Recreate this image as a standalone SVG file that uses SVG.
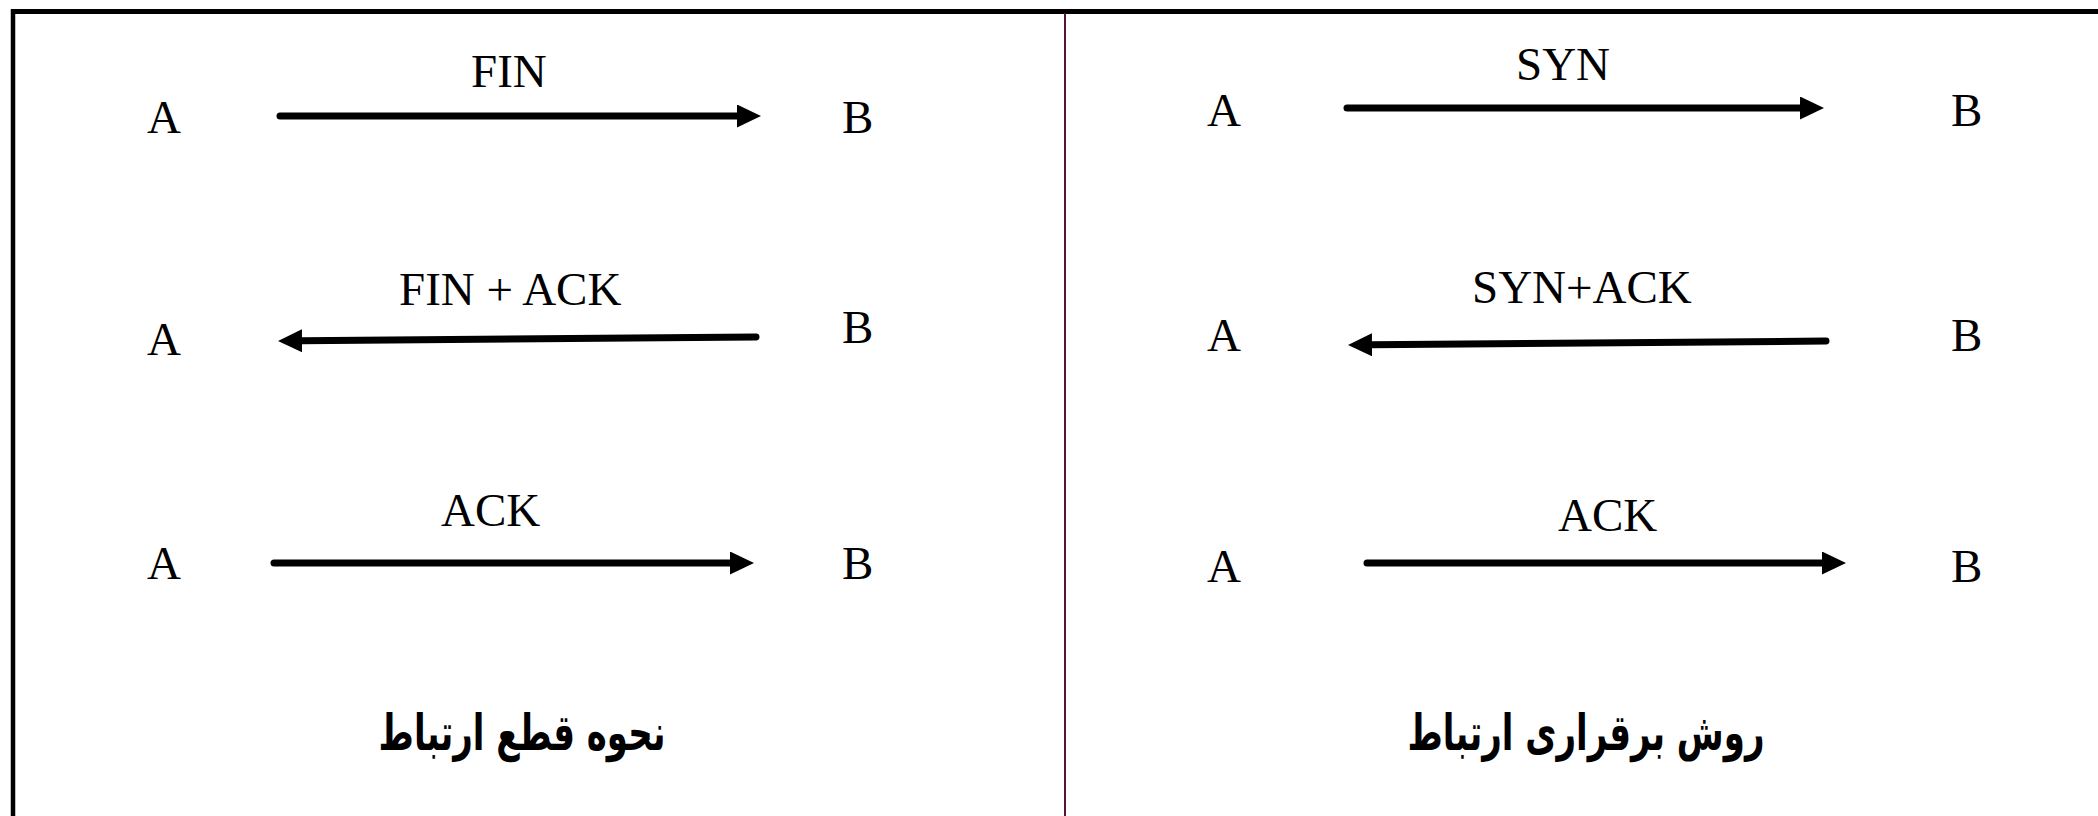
<svg xmlns="http://www.w3.org/2000/svg" width="2098" height="816" viewBox="0 0 2098 816">
<style>
.lbl{font-family:"Liberation Serif","Times New Roman",serif;font-size:47px;fill:#000}
.fa{font-family:"DejaVu Sans",sans-serif;font-weight:bold;font-size:50px;fill:#000}
.arr{stroke:#000;stroke-width:7;stroke-linecap:round;fill:none;marker-end:url(#head)}
</style>
<defs>
<marker id="head" markerUnits="userSpaceOnUse" markerWidth="26" markerHeight="24" refX="1" refY="11.5" orient="auto">
<path d="M0,0 L24,11.5 L0,23 Z" fill="#000"/>
</marker>
</defs>
<rect width="2098" height="816" fill="#fff"/>
<g id="frame">
<line x1="11" y1="11.5" x2="2098" y2="11.5" stroke="#000" stroke-width="5"/>
<line x1="13" y1="9" x2="13" y2="816" stroke="#000" stroke-width="4.5"/>
<line x1="1065" y1="13" x2="1065" y2="816" stroke="#4a1838" stroke-width="2"/>
</g>
<g id="connectors">
<line class="arr" x1="280" y1="116" x2="738" y2="116"/>
<line class="arr" x1="756" y1="337" x2="301" y2="340.8"/>
<line class="arr" x1="274" y1="563" x2="731" y2="563"/>
<line class="arr" x1="1347" y1="108" x2="1801" y2="108"/>
<line class="arr" x1="1826" y1="341" x2="1371" y2="344.8"/>
<line class="arr" x1="1367" y1="563" x2="1823" y2="563"/>
</g>
<g id="left-labels">
<text class="lbl" x="471" y="87">FIN</text>
<text class="lbl" x="399" y="305">FIN + ACK</text>
<text class="lbl" x="441" y="526">ACK</text>
</g>
<g id="left-A1"><text class="lbl" x="147" y="133">A</text></g>
<g id="left-B1"><text class="lbl" x="842" y="133">B</text></g>
<g id="left-A2"><text class="lbl" x="147" y="355">A</text></g>
<g id="left-B2"><text class="lbl" x="842" y="343">B</text></g>
<g id="left-A3"><text class="lbl" x="147" y="579">A</text></g>
<g id="left-B3"><text class="lbl" x="842" y="579">B</text></g>
<g id="left-title"><text class="fa" transform="translate(522,750) scale(0.68,1)" x="0" y="0" text-anchor="middle" direction="rtl">نحوه قطع ارتباط</text></g>
<g id="right-labels">
<text class="lbl" x="1516" y="80">SYN</text>
<text class="lbl" x="1472" y="303">SYN+ACK</text>
<text class="lbl" x="1558" y="531">ACK</text>
</g>
<g id="right-A1"><text class="lbl" x="1207" y="126">A</text></g>
<g id="right-B1"><text class="lbl" x="1951" y="126">B</text></g>
<g id="right-A2"><text class="lbl" x="1207" y="351">A</text></g>
<g id="right-B2"><text class="lbl" x="1951" y="351">B</text></g>
<g id="right-A3"><text class="lbl" x="1207" y="582">A</text></g>
<g id="right-B3"><text class="lbl" x="1951" y="582">B</text></g>
<g id="right-title"><text class="fa" transform="translate(1586,750) scale(0.68,1)" x="0" y="0" text-anchor="middle" direction="rtl">روش برقراری ارتباط</text></g>
</svg>
